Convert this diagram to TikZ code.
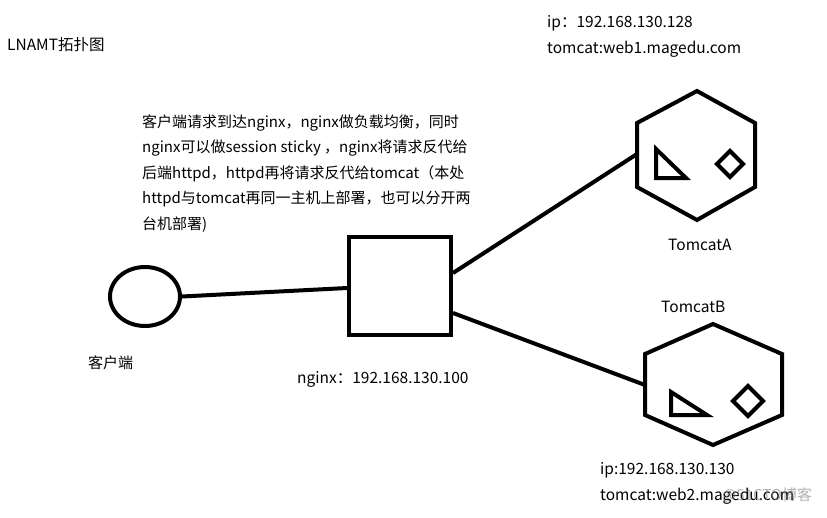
\documentclass[tikz,border=0pt]{standalone}
\usepackage{fontspec}
\setmainfont{Noto Sans CJK SC}
\usetikzlibrary{shapes.geometric}
\begin{document}
\begin{tikzpicture}[x=1pt,y=-1pt,
  thick line/.style={line width=4pt, line join=miter},
  txt/.style={anchor=base west, inner sep=0pt, font=\fontsize{15.5}{18}\selectfont},
  paratxt/.style={anchor=base west, inner sep=0pt, font=\fontsize{15}{18}\selectfont},
  smalltxt/.style={anchor=base west, inner sep=0pt, font=\fontsize{15}{18}\selectfont}]
\useasboundingbox[fill=white] (0,0) rectangle (827,517);

% texts
\node[txt] (title) at (7,50) {LNAMT拓扑图};
\node[paratxt] (p1) at (142,127) {客户端请求到达nginx，nginx做负载均衡，同时};
\node[paratxt] (p2) at (142,152.5) {nginx可以做session sticky ，nginx将请求反代给};
\node[paratxt] (p3) at (142,178) {后端httpd，httpd再将请求反代给tomcat（本处};
\node[paratxt] (p4) at (142,203.5) {httpd与tomcat再同一主机上部署，也可以分开两};
\node[paratxt] (p5) at (142,229) {台机部署)};

\node[txt] (ipa) at (547,27) {ip：192.168.130.128};
\node[txt] (tca) at (547,53) {tomcat:web1.magedu.com};
\node[txt] (ipb) at (600,474) {ip:192.168.130.130};
\node[txt] (tcb) at (600,500) {tomcat:web2.magedu.com};
\node[paratxt, text=gray, opacity=0.6] (wm) at (722,500) {@51CTO博客};

\node[smalltxt] (clientlbl) at (88,368) {客户端};
\node[txt] (nginxlbl) at (297,383) {nginx：192.168.130.100};
\node[txt] (tomcatAlbl) at (668,250) {TomcatA};
\node[txt] (tomcatBlbl) at (661,312) {TomcatB};

% client
\node[ellipse, draw, thick line, minimum width=70pt, minimum height=59pt, inner sep=0pt] (client) at (145,296.5) {};
% nginx square
\node[draw, thick line, minimum width=102pt, minimum height=98pt, inner sep=0pt] (sq) at (400,286) {};

% hexagon A
\draw[thick line] (697,91) -- (755,123) -- (755,187) -- (697,220) -- (637,187) -- (637,123) -- cycle;
\coordinate (ha) at (637,154);
\draw[thick line] (656,149) -- (656,178) -- (686,178) -- cycle;
\draw[thick line] (730,151) -- (743,164) -- (730,177) -- (717,164) -- cycle;

% hexagon B
\draw[thick line] (713,324) -- (782,354) -- (782,415) -- (713,445) -- (645,415) -- (645,354) -- cycle;
\coordinate (hb) at (645,385);
\draw[thick line] (671,392) -- (671,415) -- (707,415) -- cycle;
\draw[thick line] (748,386) -- (763,401) -- (748,416) -- (733,401) -- cycle;

% connectors
\draw[thick line] (client.east) -- ([yshift=-2pt]sq.west);
\draw[thick line] ([yshift=13pt]sq.east) -- (ha);
\draw[thick line] ([yshift=-27pt]sq.east) -- (hb);
\end{tikzpicture}
\end{document}
